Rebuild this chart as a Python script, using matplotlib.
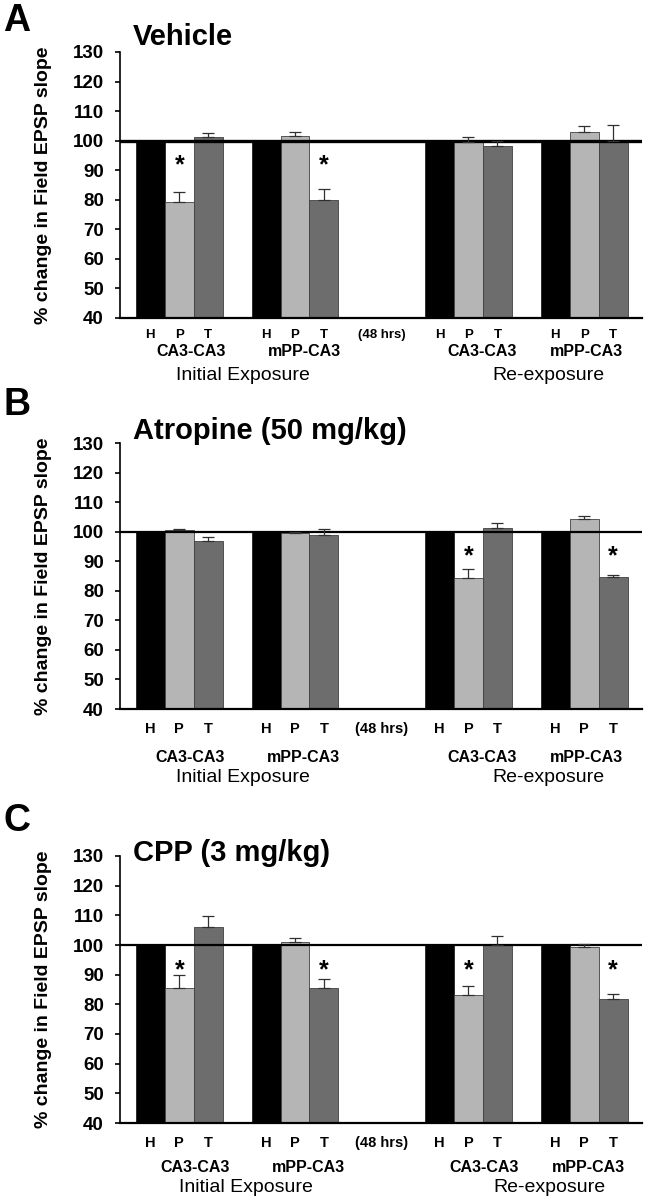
import matplotlib
matplotlib.use("Agg")
import matplotlib.pyplot as plt
import matplotlib.transforms as mtransforms
import numpy as np

plt.rcParams['font.family'] = ['Liberation Sans', 'DejaVu Sans']

# groups: initial CA3-CA3, initial mPP-CA3, re-exposure CA3-CA3, re-exposure mPP-CA3
conditions = ["H", "P", "T"]
group_names = ["CA3-CA3", "mPP-CA3", "CA3-CA3", "mPP-CA3"]
phase_names = ["Initial Exposure", "Re-exposure"]
panel_letters = ["A", "B", "C"]
panel_titles = ["Vehicle", "Atropine (50 mg/kg)", "CPP (3 mg/kg)"]
yticks = [40, 50, 60, 70, 80, 90, 100, 110, 120, 130]

h_vals = [100, 100, 100, 100]

vehicle_p = [79.1, 101.5, 99.4, 102.9]
vehicle_p_err = [3.6, 1.4, 2.0, 2.2]
vehicle_t = [101.1, 79.8, 98.3, 100.0]
vehicle_t_err = [1.5, 3.7, 1.5, 5.4]
vehicle_sig_p = [True, False, False, False]
vehicle_sig_t = [False, True, False, False]

atropine_p = [100.4, 99.6, 84.2, 104.3]
atropine_p_err = [0.4, 0.2, 3.0, 1.0]
atropine_t = [96.8, 99.0, 101.4, 84.6]
atropine_t_err = [1.4, 1.8, 1.5, 0.9]
atropine_sig_p = [False, False, True, False]
atropine_sig_t = [False, False, False, True]

cpp_p = [85.6, 100.9, 83.0, 99.4]
cpp_p_err = [4.3, 1.6, 3.3, 1.1]
cpp_t = [106.0, 85.4, 100.0, 81.7]
cpp_t_err = [3.9, 3.3, 3.0, 1.9]
cpp_sig_p = [True, False, True, False]
cpp_sig_t = [False, True, False, True]

panels = [
    (vehicle_p, vehicle_p_err, vehicle_t, vehicle_t_err, vehicle_sig_p, vehicle_sig_t),
    (atropine_p, atropine_p_err, atropine_t, atropine_t_err, atropine_sig_p, atropine_sig_t),
    (cpp_p, cpp_p_err, cpp_t, cpp_t_err, cpp_sig_p, cpp_sig_t),
]

W, H = 645, 1199
group_start = np.array([0, 4, 10, 14])
colors = ["#000000", "#b5b5b5", "#6d6d6d"]

# pixel layout: axes top, axes bottom, baselines of the three label rows,
# letter centre y, title centre y, width of the 100% line, HPT size
layout = [
    (52, 318, 338, 356, 380, 21, 37, 2.4, 9.5),
    (443, 709, 733, 762, 782, 405, 431, 1.6, 10.5),
    (856, 1123, 1147, 1172, 1192, 821, 853, 1.6, 10.5),
]
group_label_x = [
    [1.4, 5.33, 11.47, 15.07],
    [1.38, 5.29, 11.47, 15.07],
    [1.54, 5.47, 11.55, 15.15],
]
phase_label_x = [[3.2, 13.75], [3.2, 13.75], [3.29, 13.8]]
ax_left, ax_right = 120, 642

fig = plt.figure(figsize=(W / 100, H / 100), dpi=100)

for i, (p, p_err, t, t_err, sig_p, sig_t) in enumerate(panels):
    top, bot, row1, row2, row3, ly, ty, lw100, fs_hpt = layout[i]
    ax = fig.add_axes([ax_left / W, 1 - bot / H, (ax_right - ax_left) / W, (bot - top) / H])
    hpx = bot - top

    ax.bar(group_start, h_vals, width=1.0, color=colors[0], edgecolor="#202020", linewidth=0.6, zorder=2)
    ax.bar(group_start + 1, p, width=1.0, color=colors[1], edgecolor="#404040", linewidth=0.6, zorder=2)
    ax.bar(group_start + 2, t, width=1.0, color=colors[2], edgecolor="#404040", linewidth=0.6, zorder=2)
    ax.errorbar(group_start + 1, p, yerr=[np.zeros(4), p_err], fmt="none",
                ecolor="#303030", elinewidth=0.9, capsize=4.3, capthick=0.9, zorder=4)
    ax.errorbar(group_start + 2, t, yerr=[np.zeros(4), t_err], fmt="none",
                ecolor="#303030", elinewidth=0.9, capsize=4.3, capthick=0.9, zorder=4)
    ax.axhline(100, color="black", lw=lw100, zorder=3)

    for g in range(4):
        if sig_p[g]:
            ax.text(group_start[g] + 1, 91.5, "*", ha="center", va="center",
                    fontsize=18, fontweight="bold")
        if sig_t[g]:
            ax.text(group_start[g] + 2, 91.5, "*", ha="center", va="center",
                    fontsize=18, fontweight="bold")

    ax.set_xlim(-1.05, 17.0)
    ax.set_ylim(40, 130)
    ax.set_yticks(yticks)
    ax.set_yticklabels([str(v) for v in yticks], fontsize=13.5, fontweight="bold")
    ax.tick_params(axis="y", length=3.6, width=1.2, pad=8)
    ax.set_xticks([])
    for s in ["top", "right"]:
        ax.spines[s].set_visible(False)
    ax.spines["left"].set_linewidth(1.2)
    ax.spines["bottom"].set_linewidth(1.6)

    ax.set_ylabel("% change in Field EPSP slope", fontsize=14, fontweight="bold")
    ax.yaxis.set_label_coords((52 - ax_left) / (ax_right - ax_left), 0.5)

    trans = mtransforms.blended_transform_factory(ax.transData, ax.transAxes)
    for g in range(4):
        for k, c in enumerate(conditions):
            ax.text(group_start[g] + k, -(row1 - bot) / hpx, c, transform=trans,
                    ha="center", va="baseline", fontsize=fs_hpt, fontweight="bold")
    ax.text(8, -(row1 - bot) / hpx, "(48 hrs)", transform=trans,
            ha="center", va="baseline", fontsize=fs_hpt, fontweight="bold")
    for g, x in enumerate(group_label_x[i]):
        ax.text(x, -(row2 - bot) / hpx, group_names[g], transform=trans,
                ha="center", va="baseline", fontsize=11.5, fontweight="bold")
    for name, x in zip(phase_names, phase_label_x[i]):
        ax.text(x, -(row3 - bot) / hpx, name, transform=trans,
                ha="center", va="baseline", fontsize=14)

    fig.text(17 / W, 1 - ly / H, panel_letters[i], ha="center", va="center",
             fontsize=27, fontweight="bold")
    fig.text(133 / W, 1 - ty / H, panel_titles[i], ha="left", va="center",
             fontsize=21, fontweight="bold")

fig.savefig("out.png", dpi=100, facecolor="white")
